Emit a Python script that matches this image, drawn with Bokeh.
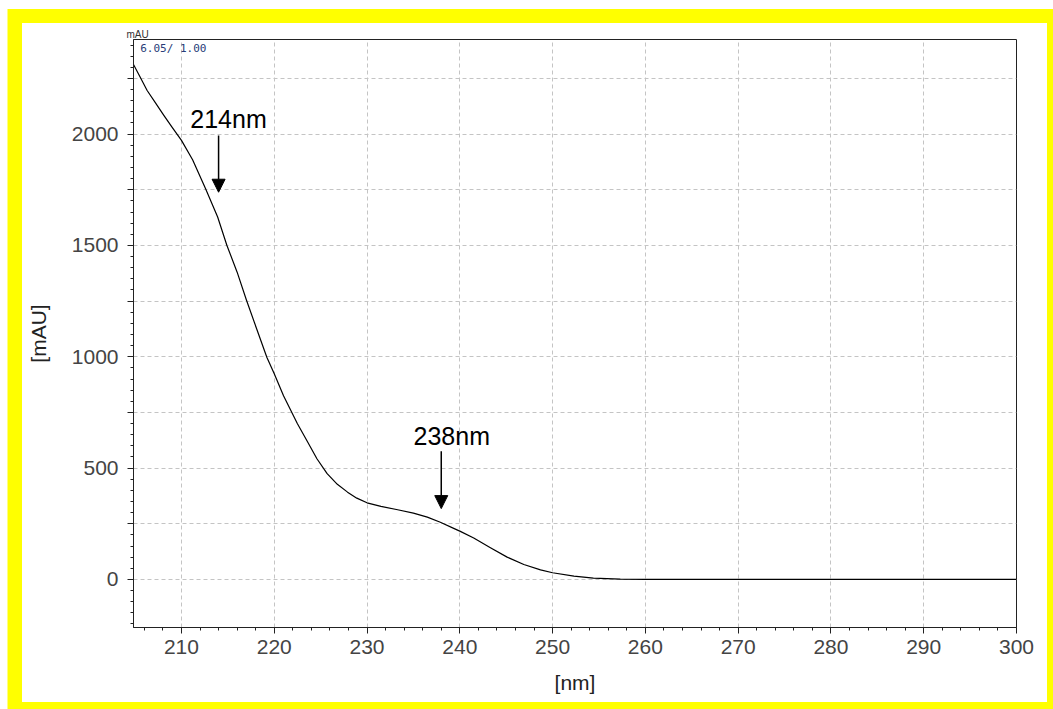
from bokeh.plotting import figure
from bokeh.models import Range1d, FixedTicker, Label, Arrow, NormalHead
from bokeh.embed import file_html
from bokeh.resources import INLINE

# UV spectrum
wavelength_nm = [204.8, 205.5, 206.3, 207.2, 208.1, 209.0, 210.0, 211.2, 212.6, 213.9,
                 214.9, 216.0, 217.0, 218.1, 219.2, 220.0, 221.0, 222.5, 223.6, 224.6,
                 225.7, 226.8, 227.9, 228.9, 230.0, 231.5, 233.3, 235.0, 236.5, 237.9,
                 239.4, 240.0, 241.5, 243.3, 245.1, 246.9, 248.7, 250.0, 252.3, 254.4,
                 257.3, 260.0, 270.0, 280.0, 290.0, 300.0]
absorbance_mAU = [2315, 2260, 2196, 2140, 2084, 2030, 1972, 1885, 1755, 1628,
                  1500, 1380, 1255, 1126, 998, 924, 825, 699, 617, 542,
                  475, 427, 392, 365, 344, 328, 313, 298, 280, 257,
                  228, 217, 186, 142, 100, 67, 43, 30, 15, 6,
                  1.5, 0, 0, 0, 0, 0]

peak_labels = ["214nm", "238nm"]
peak_nm = [214, 238]
arrow_top_mAU = [1994, 576]
arrow_tip_mAU = [1739, 318]
label_x_nm = [215.07, 239.13]
label_base_mAU = [2070, 642]

x_ticks = list(range(210, 301, 10))
x_minor = list(range(206, 301, 2))
y_ticks = list(range(0, 2251, 250))
y_minor = list(range(-200, 2401, 50))
y_labelled = [0, 500, 1000, 1500, 2000]

FONT = "Liberation Sans"

p = figure(width=1025, height=679, output_backend="svg", toolbar_location=None,
           x_range=Range1d(204.83, 300), y_range=Range1d(-216, 2425),
           min_border_left=111, min_border_right=31, min_border_top=16,
           min_border_bottom=75)
p.margin = (23, 0, 0, 22)
# yellow picture frame drawn as an outside shadow of the figure
p.styles = {"box-shadow": "-4px -3.5px 0px 10.5px #ffff00"}
p.background_fill_color = "white"
p.border_fill_color = "white"
p.outline_line_color = "#222222"
p.outline_line_width = 1

# small header text above the frame
p.title.text = "mAU"
p.title.align = "left"
p.title.offset = -7
p.title.standoff = 0
p.title.text_font = FONT
p.title.text_font_size = "10px"
p.title.text_font_style = "normal"
p.title.text_color = "#333333"

p.line(wavelength_nm, absorbance_mAU, line_color="black", line_width=1.2,
       line_join="round")

# grids
p.xgrid.ticker = FixedTicker(ticks=x_ticks)
p.ygrid.ticker = FixedTicker(ticks=y_ticks)
for g in (p.xgrid, p.ygrid):
    g.grid_line_color = "#c4c4c4"
    g.grid_line_dash = "4 3"
    g.grid_line_width = 1

# axes
p.xaxis.ticker = FixedTicker(ticks=x_ticks, minor_ticks=x_minor)
p.yaxis.ticker = FixedTicker(ticks=y_ticks, minor_ticks=y_minor)
p.yaxis.major_label_overrides = {t: "" for t in y_ticks if t not in y_labelled}
for ax in (p.xaxis, p.yaxis):
    ax.axis_line_color = "#222222"
    ax.major_tick_line_color = "#222222"
    ax.minor_tick_line_color = "#222222"
    ax.major_tick_in = 0
    ax.major_tick_out = 6
    ax.minor_tick_in = 0
    ax.minor_tick_out = 3
    ax.major_label_text_font = FONT
    ax.major_label_text_font_size = "21px"
    ax.major_label_text_color = "#444444"
    ax.axis_label_text_font = FONT
    ax.axis_label_text_font_size = "21px"
    ax.axis_label_text_font_style = "normal"
    ax.axis_label_text_color = "#222222"
p.xaxis.axis_label = "[nm]"
p.yaxis.axis_label = "[mAU]"
p.xaxis.major_label_standoff = 6
p.yaxis.major_label_standoff = 9
p.xaxis.axis_label_standoff = 14
p.yaxis.axis_label_standoff = 19

p.add_layout(Label(x=205.55, y=2413, text="6.05/ 1.00", text_font="DejaVu Sans Mono",
                   text_font_size="11px", text_color="#283c78", text_baseline="top"))

# peak annotations
for lab, nm, y0, y1, lx, ly in zip(peak_labels, peak_nm, arrow_top_mAU, arrow_tip_mAU,
                                   label_x_nm, label_base_mAU):
    p.add_layout(Arrow(x_start=nm, y_start=y0, x_end=nm, y_end=y1, line_width=1.5,
                       line_color="black",
                       end=NormalHead(size=13, fill_color="black", line_color="black")))
    p.add_layout(Label(x=lx, y=ly, text=lab, text_font=FONT, text_font_size="25px",
                       text_color="black", text_align="center", text_baseline="alphabetic"))

open("out.html", "w").write(file_html(p, INLINE))
